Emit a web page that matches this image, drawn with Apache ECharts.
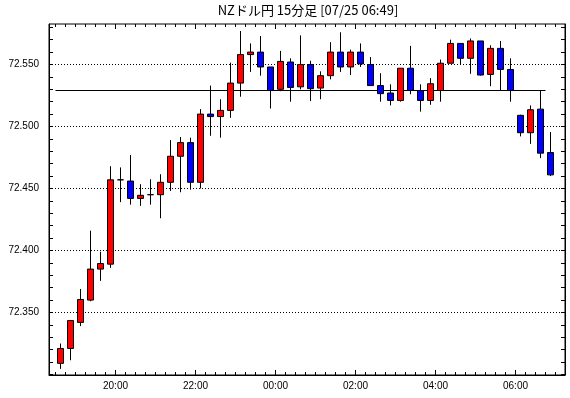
<!DOCTYPE html>
<html>
<head>
<meta charset="utf-8">
<script src="https://cdn.jsdelivr.net/npm/echarts@6/dist/echarts.min.js"></script>
<style>
  html, body { margin: 0; padding: 0; background: #fff; }
  #chart { width: 570px; height: 398px; }
</style>
</head>
<body>
<div id="chart"></div>
<script>
// 15分足の開始時刻
const times = ['18:30','18:45','19:00','19:15','19:30','19:45','20:00','20:15','20:30','20:45',
  '21:00','21:15','21:30','21:45','22:00','22:15','22:30','22:45','23:00','23:15',
  '23:30','23:45','00:00','00:15','00:30','00:45','01:00','01:15','01:30','01:45',
  '02:00','02:15','02:30','02:45','03:00','03:15','03:30','03:45','04:00','04:15',
  '04:30','04:45','05:00','05:15','05:30','05:45','06:00','06:15','06:30','06:45'];
const openVals = [72.309,72.321,72.342,72.360,72.385,72.389,72.457,72.456,72.442,72.445,
  72.445,72.455,72.476,72.487,72.455,72.510,72.508,72.513,72.535,72.558,
  72.560,72.548,72.530,72.552,72.532,72.550,72.531,72.541,72.560,72.548,
  72.560,72.550,72.533,72.527,72.521,72.547,72.529,72.521,72.529,72.551,
  72.567,72.555,72.569,72.542,72.563,72.546,72.509,72.495,72.514,72.479];
const closeVals = [72.321,72.3435,72.3605,72.385,72.3895,72.457,72.457,72.442,72.4445,72.445,
  72.455,72.476,72.487,72.455,72.510,72.508,72.513,72.535,72.558,72.560,
  72.548,72.529,72.5525,72.5315,72.550,72.5305,72.541,72.560,72.548,72.560,
  72.5505,72.533,72.5265,72.521,72.547,72.529,72.521,72.5345,72.551,72.567,
  72.555,72.569,72.5415,72.563,72.546,72.529,72.495,72.5135,72.4785,72.461];
const lowVals = [72.3045,72.3115,72.339,72.359,72.3755,72.386,72.439,72.437,72.436,72.437,
  72.426,72.448,72.447,72.449,72.450,72.4925,72.491,72.507,72.524,72.544,
  72.541,72.5145,72.5285,72.520,72.530,72.5205,72.522,72.538,72.544,72.5415,
  72.548,72.533,72.520,72.517,72.520,72.526,72.512,72.5175,72.520,72.551,
  72.550,72.5425,72.541,72.5325,72.529,72.520,72.492,72.486,72.4745,72.460];
const highVals = [72.325,72.344,72.369,72.416,72.399,72.468,72.467,72.477,72.4535,72.4575,
  72.4615,72.489,72.4915,72.491,72.514,72.533,72.522,72.5515,72.577,72.567,
  72.573,72.548,72.561,72.555,72.5735,72.553,72.5445,72.568,72.576,72.562,
  72.567,72.556,72.543,72.534,72.547,72.565,72.534,72.539,72.554,72.570,
  72.567,72.571,72.569,72.5655,72.569,72.555,72.5095,72.517,72.529,72.4955];

// 水平線 (基準値) とその始点・終点
const refLevel = 72.529;
const refFrom = '18:30';
const refTo = '06:45';

// 目盛
const xLabelTimes = ['20:00','22:00','00:00','02:00','04:00','06:00'];
const yLabelVals = [72.35, 72.40, 72.45, 72.50, 72.55];
const yMinorVals = [72.30,72.31,72.32,72.33,72.34,72.35,72.36,72.37,72.38,72.39,
  72.40,72.41,72.42,72.43,72.44,72.45,72.46,72.47,72.48,72.49,
  72.50,72.51,72.52,72.53,72.54,72.55,72.56,72.57,72.58];

// 18:00 からの経過分
function toMin(t) {
  const h = parseInt(t.slice(0, 2), 10);
  const m = parseInt(t.slice(3, 5), 10);
  return ((h - 18 + 24) % 24) * 60 + m;
}
function fmtMin(v) {
  const h = (18 + Math.floor(v / 60)) % 24;
  const m = v % 60;
  return String(h).padStart(2, '0') + ':' + String(m).padStart(2, '0');
}

const xMajor = xLabelTimes.map(toMin);
const xMinor = times.map(toMin).concat([toMin(times[times.length - 1]) + 15]);
const candles = times.map((t, i) => [toMin(t) + 7.5, openVals[i], closeVals[i], lowVals[i], highVals[i]]);

const xMin = 20.25, xMax = 794.25;
// 1240px/円 で破線がピクセル中心に乗るように
const yMax = 72.582661, yMin = 72.299597;

const labelFont = { fontFamily: 'Liberation Sans', fontSize: 10, color: '#000' };

function xAx(pos, values, len, labels) {
  return {
    type: 'value', position: pos, min: xMin, max: xMax,
    axisLine: { show: labels, lineStyle: { color: '#000', width: 1 } },
    axisTick: { show: true, inside: true, length: len, customValues: values, lineStyle: { color: '#000' } },
    axisLabel: { show: labels, customValues: xMajor, margin: 6, formatter: fmtMin, ...labelFont },
    splitLine: { show: false }
  };
}
function yAx(pos, labels) {
  return {
    type: 'value', position: pos, min: yMin, max: yMax,
    axisLine: { show: true, lineStyle: { color: '#000', width: 1 } },
    axisTick: { show: true, inside: true, length: 4, customValues: yMinorVals, lineStyle: { color: '#000' } },
    axisLabel: {
      show: labels, customValues: yLabelVals, margin: 10, formatter: v => v.toFixed(3),
      ...labelFont, fontFamily: "'Liberation Sans Narrow', 'Liberation Sans'"
    },
    splitLine: { show: false }
  };
}

const chart = echarts.init(document.getElementById('chart'));
chart.setOption({
  animation: false,
  backgroundColor: '#fff',
  title: {
    text: 'NZドル円 15分足 [07/25 06:49]',
    left: 308, top: 4, padding: 0, textAlign: 'center',
    textStyle: { fontFamily: 'Noto Sans CJK JP', fontSize: 13, fontWeight: 'normal', color: '#000' }
  },
  grid: { left: 49, right: 5, top: 24, bottom: 23, show: true, borderColor: '#000', borderWidth: 1, backgroundColor: '#fff' },
  xAxis: [
    xAx('bottom', xMajor, 5, true),
    xAx('bottom', xMinor, 3, false),
    xAx('top', xMajor, 5, false),
    xAx('top', xMinor, 3, false)
  ],
  yAxis: [yAx('left', true), yAx('right', false)],
  series: [{
    type: 'candlestick',
    xAxisIndex: 0, yAxisIndex: 0,
    barWidth: 6,
    data: candles,
    itemStyle: {
      color: '#ff0000', color0: '#0000ff',
      borderColor: '#000', borderColor0: '#000', borderColorDoji: '#000',
      borderWidth: 1
    },
    markLine: {
      silent: true, symbol: 'none', z: 1,
      label: { show: false },
      data: yLabelVals.map(v => ({ yAxis: v, lineStyle: { color: '#000', width: 1, type: [1, 2] } }))
        .concat([[
          { coord: [toMin(refFrom), refLevel], lineStyle: { color: '#000', width: 1, type: 'solid' } },
          { coord: [toMin(refTo), refLevel] }
        ]])
    }
  }]
});
</script>
</body>
</html>
